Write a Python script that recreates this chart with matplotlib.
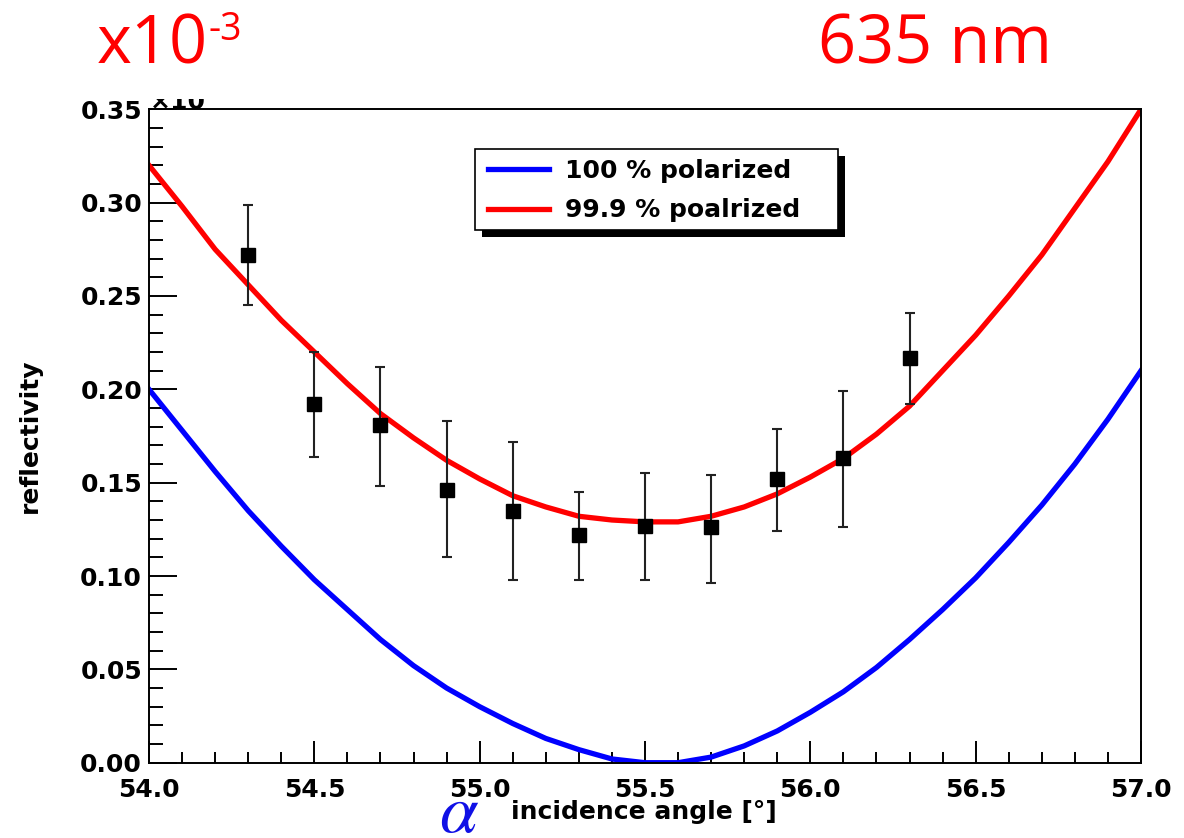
import matplotlib
matplotlib.use("Agg")
import matplotlib.pyplot as plt
from matplotlib.patches import Rectangle
from matplotlib.ticker import MultipleLocator, FormatStrFormatter

# ---------------- data ----------------
curve_angles = [54.0, 54.1, 54.2, 54.3, 54.4, 54.5, 54.6, 54.7, 54.8, 54.9,
                55.0, 55.1, 55.2, 55.3, 55.4, 55.5, 55.6, 55.7, 55.8, 55.9,
                56.0, 56.1, 56.2, 56.3, 56.4, 56.5, 56.6, 56.7, 56.8, 56.9, 57.0]
refl_100 = [0.200, 0.178, 0.156, 0.135, 0.116, 0.098, 0.082, 0.066, 0.052, 0.040,
            0.030, 0.021, 0.013, 0.007, 0.002, 0.000, 0.000, 0.003, 0.009, 0.017,
            0.027, 0.038, 0.051, 0.066, 0.082, 0.099, 0.118, 0.138, 0.160, 0.184, 0.210]
refl_999 = [0.320, 0.298, 0.275, 0.256, 0.237, 0.220, 0.203, 0.187, 0.174, 0.162,
            0.152, 0.143, 0.137, 0.132, 0.130, 0.129, 0.129, 0.132, 0.137, 0.144,
            0.153, 0.163, 0.176, 0.191, 0.210, 0.229, 0.250, 0.272, 0.297, 0.322, 0.350]

meas_angles = [54.3, 54.5, 54.7, 54.9, 55.1, 55.3, 55.5, 55.7, 55.9, 56.1, 56.3]
meas_refl = [0.272, 0.192, 0.181, 0.146, 0.135, 0.122, 0.127, 0.126, 0.152, 0.163, 0.217]
meas_low = [0.245, 0.164, 0.148, 0.110, 0.098, 0.098, 0.098, 0.096, 0.124, 0.126, 0.192]
meas_high = [0.299, 0.220, 0.212, 0.183, 0.172, 0.145, 0.155, 0.154, 0.179, 0.199, 0.241]

legend_labels = ["100 % polarized", "99.9 % poalrized"]
x_label = "incidence angle [°]"
y_label = "reflectivity"

# ---------------- figure ----------------
W, H = 1184, 838
fig = plt.figure(figsize=(W / 100, H / 100), dpi=100)
fig.patch.set_facecolor("white")

ax_l, ax_r, ax_t, ax_b = 149, 1141, 109.3, 762.7
ax = fig.add_axes([ax_l / W, 1 - ax_b / H, (ax_r - ax_l) / W, (ax_b - ax_t) / H])
ax.set_zorder(2)

bold = dict(family="DejaVu Sans", weight="bold")

ax.plot(curve_angles, refl_100, color="#0000ff", lw=3.8, label=legend_labels[0],
        solid_joinstyle="round", zorder=2)
ax.plot(curve_angles, refl_999, color="#ff0000", lw=3.8, label=legend_labels[1],
        solid_joinstyle="round", zorder=2)

yerr = [[v - lo for v, lo in zip(meas_refl, meas_low)],
        [hi - v for v, hi in zip(meas_refl, meas_high)]]
ax.errorbar(meas_angles, meas_refl, yerr=yerr, fmt="s", color="black",
            ms=9.5, mec="black", mfc="black", ecolor="#222222", elinewidth=1.5,
            capsize=3.3, capthick=1.5, zorder=4)

ax.set_xlim(54.0, 57.0)
ax.set_ylim(0.0, 0.35)
ax.xaxis.set_major_locator(MultipleLocator(0.5))
ax.xaxis.set_minor_locator(MultipleLocator(0.1))
ax.yaxis.set_major_locator(MultipleLocator(0.05))
ax.yaxis.set_minor_locator(MultipleLocator(0.01))
ax.xaxis.set_major_formatter(FormatStrFormatter("%.1f"))
ax.yaxis.set_major_formatter(FormatStrFormatter("%.2f"))

ax.tick_params(axis="x", which="major", direction="in", length=16, width=1.4,
               pad=11, top=False, labelsize=18)
ax.tick_params(axis="x", which="minor", direction="in", length=8, width=1.4, top=False)
ax.tick_params(axis="y", which="major", direction="in", length=20, width=1.4,
               pad=5, right=False, labelsize=18)
ax.tick_params(axis="y", which="minor", direction="in", length=10, width=1.4, right=False)
for lab in ax.get_xticklabels() + ax.get_yticklabels():
    lab.set_fontweight("bold")
    lab.set_family("DejaVu Sans")
for s in ax.spines.values():
    s.set_linewidth(1.4)

ax.set_xlabel(x_label, fontsize=18, **bold)
ax.set_ylabel(y_label, fontsize=18, **bold)
ax.xaxis.set_label_coords(0.499, -0.0755)
ax.yaxis.label.set_va("center")
ax.xaxis.label.set_va("center")
ax.yaxis.set_label_coords(-0.12, 0.5)

# legend with manual frame + hard black shadow
lx0 = (475 - ax_l) / (ax_r - ax_l)
lx1 = (838 - ax_l) / (ax_r - ax_l)
ly_top = (ax_b - 149.3) / (ax_b - ax_t)
ly_bot = (ax_b - 230) / (ax_b - ax_t)
sh_dx = 7 / (ax_r - ax_l)
sh_dy = 7 / (ax_b - ax_t)
ax.add_patch(Rectangle((lx0 + sh_dx, ly_bot - sh_dy), lx1 - lx0, ly_top - ly_bot,
                       transform=ax.transAxes, facecolor="black", edgecolor="black",
                       lw=0, zorder=5))
ax.add_patch(Rectangle((lx0, ly_bot), lx1 - lx0, ly_top - ly_bot,
                       transform=ax.transAxes, facecolor="white", edgecolor="black",
                       lw=1.2, zorder=6))
leg = ax.legend(loc="upper left", bbox_to_anchor=(lx0, ly_top + 3 / (ax_b - ax_t)),
                borderaxespad=0, frameon=False,
                prop=dict(family="DejaVu Sans", weight="bold", size=18),
                handlelength=2.45, handletextpad=0.64, borderpad=0.5, labelspacing=0.62)
leg.set_zorder(7)

# partially hidden ROOT exponent at top-left of frame (only its lower part shows)
fig.text(150 / W, 1 - 109 / H, "×10", fontsize=18, **bold, ha="left",
         va="baseline", color="black", zorder=1)
fig.add_artist(Rectangle((140 / W, 1 - 99 / H), 80 / W, 30 / H, transform=fig.transFigure,
                         facecolor="white", edgecolor="none", zorder=1.5))

# red annotations
fig.text(97 / W, 1 - 63 / H, "x10", fontsize=48, family="Open Sans", weight="medium",
         color="#ff0000", ha="left", va="baseline", zorder=4)
fig.text(208 / W, 1 - 40 / H, "-3", fontsize=27, family="Open Sans", weight="medium",
         color="#ff0000", ha="left", va="baseline", zorder=4)
fig.text(818 / W, 1 - 63 / H, "635 nm", fontsize=48, family="Open Sans", weight="medium",
         color="#ff0000", ha="left", va="baseline", zorder=4)

# blue alpha near x label
fig.text(459 / W, 1 - 832 / H, r"$\alpha$", fontsize=50, color="#1010e6",
         math_fontfamily="stix", ha="center", va="baseline")

fig.savefig("out.png", dpi=100, facecolor="white")
